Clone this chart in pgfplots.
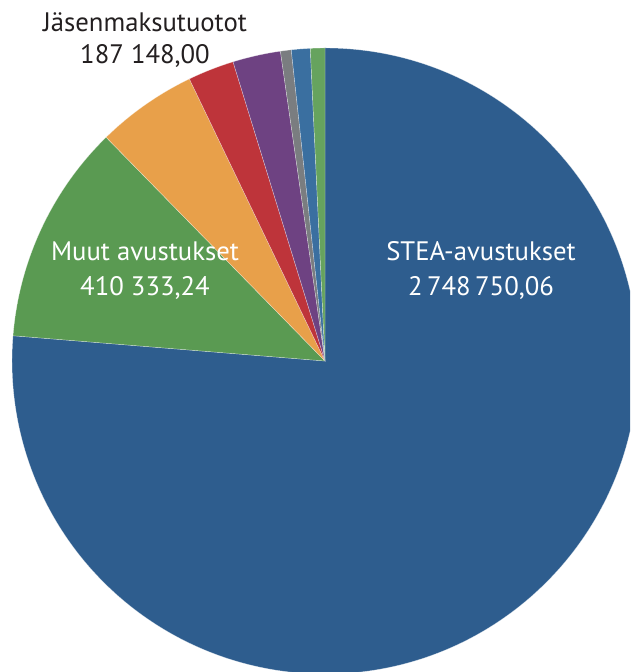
\documentclass[border=0pt]{standalone}
\usepackage{pgfplots}
\pgfplotsset{compat=1.18}
\usepackage{pgfplotstable}
\usepackage{fontspec}
\setmainfont{PT Sans}

\definecolor{cStea}{RGB}{46,93,142}
\definecolor{cMuut}{RGB}{90,154,82}
\definecolor{cJasen}{RGB}{232,160,74}
\definecolor{cRed}{RGB}{190,52,58}
\definecolor{cPurple}{RGB}{110,66,130}
\definecolor{cGray}{RGB}{122,125,128}
\definecolor{cSteel}{RGB}{58,111,160}
\definecolor{cLgreen}{RGB}{102,163,94}
\definecolor{labeltext}{RGB}{35,31,32}

% slices, clockwise from 12 o'clock
\pgfplotstableread{
value color
2748750.06 cStea
410333.24 cMuut
187148.00 cJasen
86000 cRed
89000 cPurple
20000 cGray
35000 cSteel
27000 cLgreen
}\piedata

% start / end angles of each slice
\pgfplotstablegetrowsof{\piedata}
\pgfmathtruncatemacro\nrows{\pgfplotsretval-1}
\def\total{0}
\pgfplotsforeachungrouped \i in {0,...,\nrows}{%
  \pgfplotstablegetelem{\i}{value}\of\piedata
  \edef\total{\fpeval{\total+\pgfplotsretval}}%
}
\def\cur{90}
\pgfplotsforeachungrouped \i in {0,...,\nrows}{%
  \pgfplotstablegetelem{\i}{value}\of\piedata
  \edef\nxt{\fpeval{round(\cur-360*\pgfplotsretval/\total,4)}}%
  \pgfplotstablegetelem{\i}{color}\of\piedata
  \expandafter\xdef\csname sA\i\endcsname{\cur}%
  \expandafter\xdef\csname sB\i\endcsname{\nxt}%
  \expandafter\xdef\csname sC\i\endcsname{\pgfplotsretval}%
  \let\cur\nxt
}

\begin{document}
\begin{tikzpicture}
\begin{axis}[
    hide axis,
    scale only axis,
    width=15.75cm,
    height=16.8cm,
    xmin=0, xmax=630,
    ymin=0, ymax=672,
    disabledatascaling,
    clip=true
]
\pgfplotsinvokeforeach{0,...,7}{
  \fill[fill=\csname sC#1\endcsname, draw=white, draw opacity=0.5, line width=0.3pt]
    (axis cs:325,311) -- ++(\csname sA#1\endcsname:313)
    arc[start angle=\csname sA#1\endcsname, end angle=\csname sB#1\endcsname, radius=313] -- cycle;
}
\node[white, align=center, inner sep=0pt, font=\fontsize{19}{25}\selectfont]
  at (axis cs:145,401.5) {Muut avustukset\\410 333,24};
\node[white, align=center, inner sep=0pt, font=\fontsize{19}{25}\selectfont]
  at (axis cs:481,401.5) {STEA-avustukset\\2\,748\,750,06};
\node[labeltext, align=center, inner sep=0pt, font=\fontsize{19}{22.5}\selectfont]
  at (axis cs:145,632) {Jäsenmaksutuotot\\187 148,00};
\end{axis}
\pgfresetboundingbox
\path (current axis.south west) rectangle (current axis.north east);
\end{tikzpicture}
\end{document}
